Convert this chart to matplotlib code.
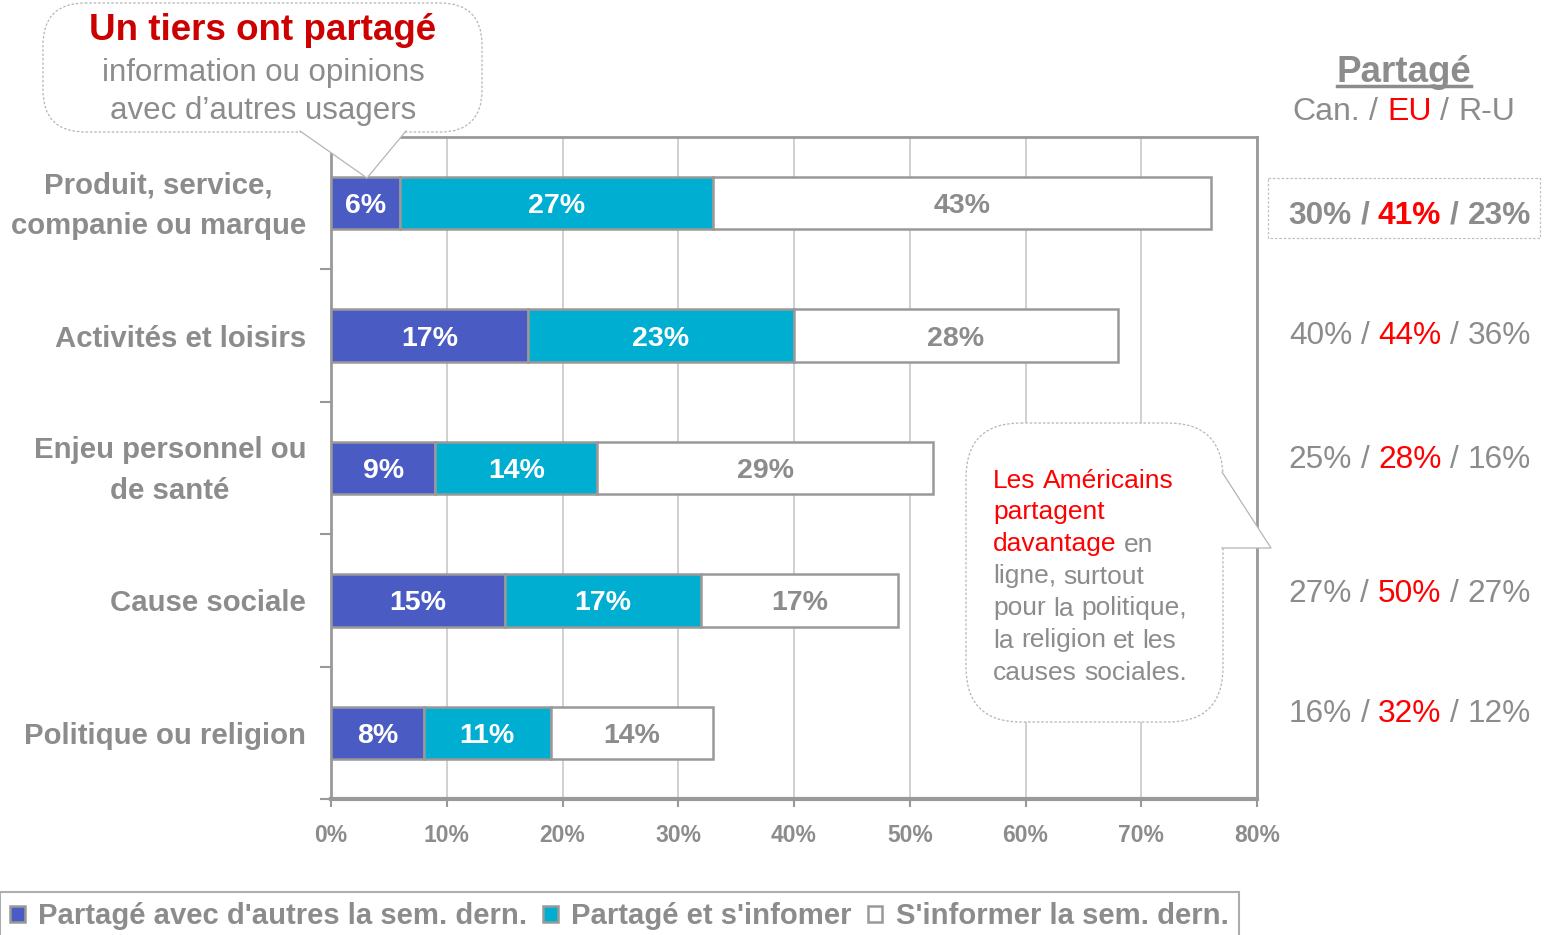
import numpy as np
import matplotlib
matplotlib.use("Agg")
import matplotlib.pyplot as plt
from matplotlib.patches import FancyBboxPatch, Polygon, Rectangle

plt.rcParams["font.family"] = ["Liberation Sans", "DejaVu Sans"]

##################### data #####################
categories = ["Produit, service,\ncompanie ou marque",
              "Activités et loisirs",
              "Enjeu personnel ou\nde santé",
              "Cause sociale",
              "Politique ou religion"]
shared_only = [6, 17, 9, 15, 8]        # Partagé avec d'autres la sem. dern.
shared_info = [27, 23, 14, 17, 11]     # Partagé et s'infomer
info_only = [43, 28, 29, 17, 14]       # S'informer la sem. dern.
series_names = ["Partagé avec d'autres la sem. dern.",
                "Partagé et s'infomer",
                "S'informer la sem. dern."]
can = [30, 40, 25, 27, 16]
usa = [41, 44, 28, 50, 32]
uk = [23, 36, 16, 27, 12]
xticks = [0, 10, 20, 30, 40, 50, 60, 70, 80]

##################### style #####################
W, H = 1551, 935
GREY = "#8c8c8c"
EDGE = "#999999"
BLUE = "#4b5bc4"
CYAN = "#00aed1"
RED = "#ff0000"
DARKRED = "#cc0000"
FONT = "Liberation Sans"
VA = "center_baseline"

fig = plt.figure(figsize=(W / 100, H / 100), dpi=100)
ax = fig.add_axes([331 / W, 1 - 799 / H, 926 / W, 662 / H])

y = np.arange(len(categories))
left = np.zeros(len(categories))
colors = [BLUE, CYAN, "white"]
bars = []
for vals, col, name in zip([shared_only, shared_info, info_only], colors, series_names):
    b = ax.barh(y, vals, left=left, height=0.395, color=col, edgecolor=EDGE,
                linewidth=1.8, label=name, zorder=3)
    bars.append(b)
    txtcol = GREY if col == "white" else "white"
    for yi, l, v in zip(y, left, vals):
        ax.text(l + v / 2, yi, f"{v}%", ha="center", va=VA, color=txtcol,
                fontsize=20.5, fontweight="bold", zorder=4)
    left = left + np.array(vals)

ax.set_xlim(0, 80)
ax.set_ylim(len(categories) - 0.5, -0.5)
ax.set_xticks(xticks)
ax.set_xticklabels([f"{t}%" for t in xticks], fontsize=16.5, fontweight="bold", color=GREY)
ax.set_yticks(y)
ax.set_yticklabels([])
# category names, centred line by line and right-aligned next to the axis
for yi, cat in zip(y, categories):
    if "\n" in cat:
        ax.text(-25 / 926, yi + 0.02, cat, transform=ax.get_yaxis_transform(),
                ha="right", va="center", multialignment="center", linespacing=1.58,
                fontsize=21.2, fontweight="bold", color=GREY)
    else:
        ax.text(-25 / 926, yi, cat, transform=ax.get_yaxis_transform(),
                ha="right", va=VA, fontsize=21.2, fontweight="bold", color=GREY)
ax.set_yticks(np.arange(-0.5, len(categories)), minor=True)
ax.tick_params(axis="y", which="major", length=0)
ax.tick_params(axis="y", which="minor", length=8, width=1.5, color=EDGE, direction="out")
ax.tick_params(axis="x", length=6, width=1.5, color=EDGE, pad=12)
ax.grid(axis="x", color="#c8c8c8", linewidth=1.2, zorder=0)
ax.set_axisbelow(True)
for side in ["top", "right", "left"]:
    ax.spines[side].set_color(EDGE)
    ax.spines[side].set_linewidth(2)
ax.spines["bottom"].set_color(EDGE)
ax.spines["bottom"].set_linewidth(3)

# legend along the bottom edge
leg = fig.legend(handles=bars, labels=series_names, loc="lower left",
                 bbox_to_anchor=(0.0, -0.006), ncol=3, frameon=True, fancybox=False,
                 borderaxespad=0, handlelength=0.5, handleheight=0.5,
                 handletextpad=0.45, columnspacing=0.55, borderpad=0.35,
                 prop={"family": FONT, "weight": "bold", "size": 21.1})
leg.get_frame().set_edgecolor(EDGE)
leg.get_frame().set_linewidth(1.5)
for t in leg.get_texts():
    t.set_color(GREY)

##################### annotations (pixel overlay) #####################
ov = fig.add_axes([0, 0, 1, 1])
ov.set_xlim(0, W)
ov.set_ylim(H, 0)
ov.axis("off")
ov.set_zorder(5)
ov.patch.set_visible(False)
renderer = fig.canvas.get_renderer()


def text_width(s, **kw):
    t = ov.text(0, 0, s, **kw)
    w = t.get_window_extent(renderer).width
    t.remove()
    return w


def words_line(x, yy, parts, ha="left", size=20, **kw):
    # parts: list of (word, color, weight); words separated by one space
    gap = text_width("a a", fontsize=size, **kw) - text_width("aa", fontsize=size, **kw)
    widths = [text_width(s, fontsize=size, fontweight=w, **kw) for s, c, w in parts]
    total = sum(widths) + gap * (len(parts) - 1)
    if ha == "right":
        x0 = x - total
    elif ha == "center":
        x0 = x - total / 2
    else:
        x0 = x
    for (s, c, w), wd in zip(parts, widths):
        ov.text(x0, yy, s, color=c, fontweight=w, fontsize=size, ha="left",
                va=VA, zorder=4, **kw)
        x0 += wd + gap
    return total


def callout(x0, y0, x1, y1, rad, tri):
    box = FancyBboxPatch((x0, y0), x1 - x0, y1 - y0,
                         boxstyle=f"round,pad=0,rounding_size={rad}",
                         facecolor="white", edgecolor="#b5b5b5", linewidth=0.9,
                         linestyle=(0, (2, 1.5)), zorder=1)
    ov.add_patch(box)
    ov.add_patch(Polygon(tri, closed=True, facecolor="white", edgecolor="none", zorder=2))
    ov.plot([tri[0][0], tri[1][0], tri[2][0]], [tri[0][1], tri[1][1], tri[2][1]],
            color="#b5b5b5", linewidth=0.9, zorder=3)


# top-left bubble
callout(43, 3, 482, 132, 42, [(300, 131), (367, 178), (406, 131)])
ov.text(263, 27, "Un tiers ont partagé", ha="center", va=VA, color=DARKRED,
        fontsize=26.5, fontweight="bold", zorder=4)
ov.text(263, 70, "information ou opinions", ha="center", va=VA, color=GREY,
        fontsize=22.5, zorder=4)
ov.text(263, 107, "avec d’autres usagers", ha="center", va=VA, color=GREY,
        fontsize=22.5, zorder=4)

# right-hand bubble
callout(966, 423, 1223, 722, 55, [(1222, 472), (1271, 548), (1222, 548)])
bubble_lines = [[("Les", RED, "normal"), ("Américains", RED, "normal")],
                [("partagent", RED, "normal")],
                [("davantage", RED, "normal"), ("en", GREY, "normal")],
                [("ligne,", GREY, "normal"), ("surtout", GREY, "normal")],
                [("pour", GREY, "normal"), ("la", GREY, "normal"), ("politique,", GREY, "normal")],
                [("la", GREY, "normal"), ("religion", GREY, "normal"), ("et", GREY, "normal"), ("les", GREY, "normal")],
                [("causes", GREY, "normal"), ("sociales.", GREY, "normal")]]
for i, parts in enumerate(bubble_lines):
    words_line(993, 478 + 32 * i, parts, ha="left", size=19)

# country comparison column
ov.text(1404, 68, "Partagé", ha="center", va=VA, color=GREY, fontsize=26.5,
        fontweight="bold")
pw = text_width("Partagé", fontsize=26.5, fontweight="bold")
ov.plot([1404 - pw / 2, 1404 + pw / 2], [86, 86], color=GREY, linewidth=2.5)
words_line(1404, 108, [("Can.", GREY, "normal"), ("/", GREY, "normal"),
                       ("EU", RED, "normal"), ("/", GREY, "normal"),
                       ("R-U", GREY, "normal")], ha="center", size=23)

row_y = [212, 333, 456, 590, 711]
for i, (c, u, k) in enumerate(zip(can, usa, uk)):
    wt = "bold" if i == 0 else "normal"
    words_line(1531, row_y[i], [(f"{c}%", GREY, wt), ("/", GREY, wt),
                                (f"{u}%", RED, wt), ("/", GREY, wt),
                                (f"{k}%", GREY, wt)], ha="right", size=22.8)
ov.add_patch(Rectangle((1268, 178), 272, 60, facecolor="none", edgecolor="#c0c0c0",
                       linewidth=0.9, linestyle=(0, (2, 1.5))))

fig.savefig("out.png", dpi=100)
